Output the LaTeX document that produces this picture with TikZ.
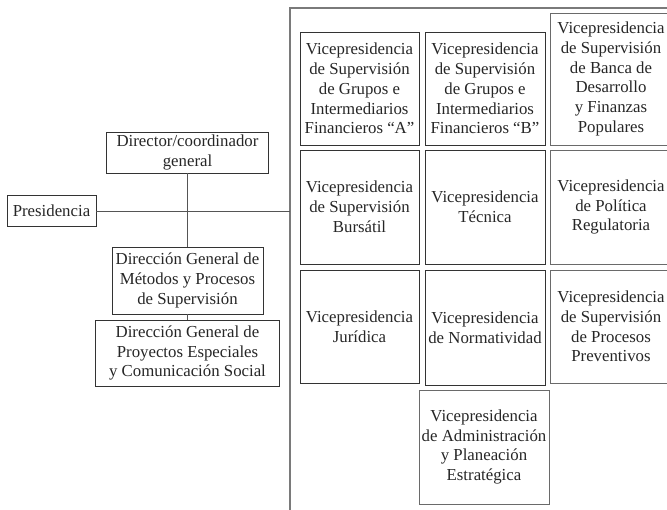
\documentclass[tikz,border=0pt]{standalone}
\usepackage{fontspec}
\setmainfont{Liberation Serif}
\definecolor{txt}{HTML}{262626}
\definecolor{bd}{HTML}{333333}
\definecolor{bdl}{HTML}{6A6A6A}
\definecolor{ln}{HTML}{555555}
\definecolor{fr}{HTML}{7A7A7A}
\begin{document}
\begin{tikzpicture}[x=1pt,y=-1pt,
  orgbox/.style={draw=bd, line width=0.9pt, align=center, inner sep=0pt,
    text=txt, font=\fontsize{16.8}{19.8}\selectfont},
  lightbox/.style={orgbox, draw=bdl},
  conn/.style={draw=ln, line width=0.9pt},
  frameline/.style={draw=fr, line width=1.8pt}]
\useasboundingbox (0,0) rectangle (667,510);
\begin{scope}
\clip (0,0) rectangle (667,510);
% frame
\coordinate (ftop) at (290,8);
\coordinate (fright) at (672,8);
\coordinate (fbot) at (290,512);
\draw[frameline] (fright) -- (ftop) -- (fbot);
% left part
\node[orgbox, minimum width=89pt, minimum height=31pt] (pres) at (51.5,211) {Presidencia};
\node[orgbox, minimum width=162pt, minimum height=41pt] (dir) at (187.5,152.5) {Director/coordinador\\general};
\node[orgbox, minimum width=151pt, minimum height=67pt] (met) at (187.5,280.5) {Dirección General de\\Métodos y Procesos\\de Supervisión};
\node[orgbox, minimum width=184pt, minimum height=66pt] (pro) at (187.5,353) {Dirección General de\\Proyectos Especiales\\y Comunicación Social};
\coordinate (fjoin) at (290,211);
\draw[conn] (pres.east) -- (fjoin);
\draw[conn] (dir.south) -- (met.north);
\draw[conn] (met.south) -- (pro.north);
% row 1
\node[orgbox, minimum width=119pt, minimum height=113pt] (a1) at (359.5,88.5) {Vicepresidencia\\de Supervisión\\de Grupos e\\Intermediarios\\Financieros “A”};
\node[orgbox, minimum width=120pt, minimum height=113pt] (b1) at (485,88.5) {Vicepresidencia\\de Supervisión\\de Grupos e\\Intermediarios\\Financieros “B”};
\node[lightbox, minimum width=122pt, minimum height=132pt] (c1) at (611,79) {Vicepresidencia\\de Supervisión\\de Banca de\\Desarrollo\\y Finanzas\\Populares};
% row 2
\node[orgbox, minimum width=119pt, minimum height=114pt] (a2) at (359.5,207) {Vicepresidencia\\de Supervisión\\Bursátil};
\node[orgbox, minimum width=120pt, minimum height=114pt] (b2) at (485,207) {Vicepresidencia\\Técnica};
\node[lightbox, minimum width=122pt, minimum height=114pt] (c2) at (611,207) {Vicepresidencia\\de Política\\Regulatoria};
% row 3
\node[orgbox, minimum width=119pt, minimum height=113pt] (a3) at (359.5,326.5) {Vicepresidencia\\Jurídica};
\node[orgbox, minimum width=120pt, minimum height=115pt] (b3) at (485,327.5) {Vicepresidencia\\de Normatividad};
\node[lightbox, minimum width=122pt, minimum height=113pt] (c3) at (611,326.5) {Vicepresidencia\\de Supervisión\\de Procesos\\Preventivos};
% row 4
\node[lightbox, minimum width=130pt, minimum height=114pt] (d4) at (484,447) {Vicepresidencia\\de Administración\\y Planeación\\Estratégica};
\end{scope}
\end{tikzpicture}
\end{document}
